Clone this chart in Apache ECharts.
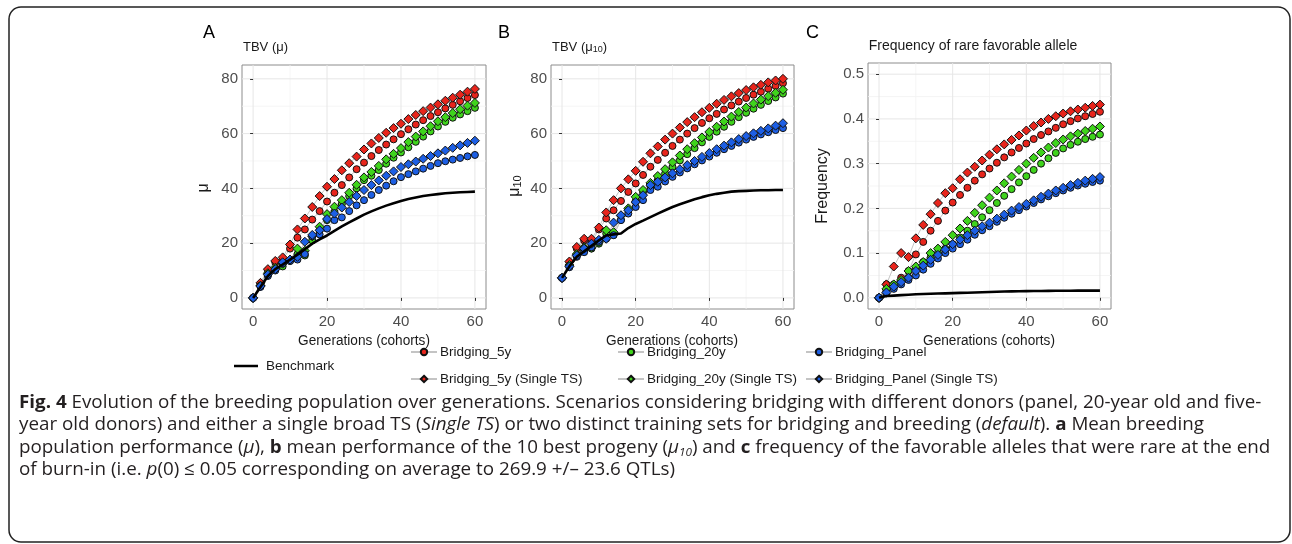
<!DOCTYPE html>
<html><head><meta charset="utf-8">
<script src="https://cdn.jsdelivr.net/npm/echarts@6/dist/echarts.min.js"></script>
<style>html,body{margin:0;padding:0;background:#fff}#c{width:1292px;height:544px}</style>
</head><body><div id="c"></div>
<script>
// ---------------- DATA ----------------
const generations = [0,2,4,6,8,10,12,14,16,18,20,22,24,26,28,30,32,34,36,38,40,42,44,46,48,50,52,54,56,58,60];
const xTicks = [0,20,40,60];
const xMinor = [10,30,50];
const yTicksAB = [0,20,40,60,80];
const yMinorAB = [10,30,50,70];
const yTicksC = [0,0.1,0.2,0.3,0.4,0.5];
const yMinorC = [0.05,0.15,0.25,0.35,0.45];

// Panel A: TBV (mu)
const A_bench    = [0,4,8,10.5,12.2,14,15.8,17.8,19.8,21.4,22.8,24.5,26.1,27.6,29,30.4,31.6,32.7,33.7,34.6,35.4,36.1,36.7,37.2,37.6,37.9,38.2,38.4,38.6,38.7,38.8];
const A_5y       = [0,5,10,13,14,18,22,25,28.6,31.7,35.2,38.4,41.2,44,47,49.4,51.8,54,56,57.9,59.8,61.6,63.3,64.9,66.4,67.8,69.2,70.5,71.8,73,74.1];
const A_5y_TS    = [0,5.5,10.5,13.5,14.8,19.5,25,29,33.2,37.2,40.6,43.4,46.6,49.2,51.6,54.2,56.4,58.4,60.3,62,63.6,65.3,66.8,68.2,69.5,70.7,72,73.1,74.2,75.3,76.3];
const A_20y      = [0,4.5,8.5,10.5,11.5,13.5,16,15.5,21,24.7,28.4,31.4,34.3,37.2,40,43,44.6,46.7,49,51.2,53.1,55,57,58.9,60.8,62.6,64.3,65.8,67,68.2,69.4];
const A_20y_TS   = [0,4.5,9,11,12.5,14,18,17.2,22.5,26,30.6,33.3,35.7,38.4,41.3,44,46,48.2,50.6,52.6,54.7,56.9,58.9,60.8,62.7,64.5,66,67.5,68.9,70.2,71.2];
const A_Panel    = [0,4,8,10,12.5,13.5,14,16,22.5,23.2,25.3,28.4,29.4,31.7,33.8,35.7,37.6,39.4,41,42.6,44.1,45.2,46.2,47.2,48.2,49.2,49.9,50.5,51.1,51.7,52.2];
const A_Panel_TS = [0,4.3,8.5,10.5,13,14,15,20.5,23,24.7,28.8,30.8,33,35,37.2,39.4,41.2,42.9,44.6,46.2,47.8,48.8,49.8,50.8,51.8,52.8,53.8,54.8,55.7,56.6,57.4];

// Panel B: TBV (mu10)
const B_bench    = [7.3,11.5,15,17,19,21,22.8,23.2,23.5,25.5,27,28.2,29.5,30.8,32,33.2,34.2,35.1,36,36.8,37.5,38,38.4,38.8,39,39.1,39.2,39.3,39.3,39.4,39.4];
const B_5y       = [7.3,13,18,21,20.4,25,29,32,35.4,38.7,41.8,44.9,47.9,50.4,53,55.5,57.8,60,62,63.9,65.6,67.2,68.8,70.3,71.7,73,74.2,75.3,76.4,77.4,78.4];
const B_5y_TS    = [7.3,13.3,18.6,21.6,21.6,25.7,31.2,35.7,40,43.3,46.4,49.7,52.8,55.3,57.8,60,62.2,64.2,66,67.8,69.4,70.9,72.3,73.6,74.8,75.9,76.9,77.8,78.7,79.4,80];
const B_20y      = [7.3,11.5,15.5,17.5,18,19.8,23.5,23,28.5,32,35.4,38.7,40.8,43,45.4,47.8,50.2,52.5,54.7,56.8,58.8,60.7,62.5,64.3,66,67.6,69.1,70.5,71.9,73.2,74.6];
const B_20y_TS   = [7.3,12,16,18.5,18.3,20.4,24.7,24,30,32.7,36.9,39.4,42,44.5,47,49.5,52,54.3,56.5,58.6,60.6,62.5,64.4,66.2,67.9,69.5,71,72.4,73.7,74.9,76];
const B_Panel    = [7.3,11.2,15,16.7,18.5,20.5,21.6,22.9,28.4,30.8,33.2,35.7,39.4,40.6,42.5,44.2,45.8,47.3,48.8,50.2,51.6,53,54.3,55.5,56.7,57.8,58.8,59.7,60.5,61.3,62];
const B_Panel_TS = [7.3,11.5,15.5,18,19.8,21.2,21.6,27.5,30.2,32,35,37.5,41.2,42.4,44,45.5,47,48.5,50,51.5,52.9,54.3,55.6,56.8,58,59.1,60.1,61,61.9,62.9,63.8];

// Panel C: frequency of rare favorable allele
const C_bench    = [0,0.004,0.005,0.006,0.007,0.008,0.0085,0.009,0.0095,0.01,0.0105,0.011,0.0115,0.012,0.0125,0.013,0.0135,0.014,0.0143,0.0146,0.015,0.0152,0.0154,0.0156,0.0157,0.0158,0.0159,0.016,0.016,0.016,0.016];
const C_5y       = [0,0.03,0.03,0.045,0.06,0.097,0.125,0.15,0.172,0.195,0.213,0.23,0.246,0.262,0.276,0.289,0.302,0.314,0.325,0.335,0.345,0.355,0.364,0.372,0.38,0.388,0.395,0.401,0.406,0.411,0.416];
const C_5y_TS    = [0,0.03,0.07,0.1,0.091,0.133,0.163,0.187,0.212,0.234,0.245,0.265,0.28,0.293,0.307,0.32,0.332,0.343,0.353,0.363,0.374,0.384,0.392,0.4,0.406,0.412,0.417,0.421,0.425,0.429,0.432];
const C_20y      = [0,0.015,0.025,0.035,0.045,0.065,0.08,0.09,0.1,0.11,0.12,0.135,0.15,0.165,0.18,0.196,0.212,0.228,0.243,0.258,0.272,0.286,0.3,0.312,0.324,0.334,0.342,0.349,0.355,0.36,0.365];
const C_20y_TS   = [0,0.02,0.03,0.04,0.06,0.07,0.08,0.1,0.11,0.125,0.14,0.155,0.172,0.19,0.207,0.224,0.24,0.256,0.271,0.286,0.3,0.313,0.325,0.336,0.346,0.354,0.361,0.367,0.373,0.378,0.383];
const C_Panel    = [0,0.01,0.02,0.03,0.04,0.05,0.063,0.076,0.088,0.1,0.11,0.12,0.13,0.141,0.151,0.16,0.17,0.179,0.188,0.196,0.204,0.212,0.22,0.227,0.234,0.24,0.246,0.251,0.255,0.259,0.262];
const C_Panel_TS = [0,0.012,0.025,0.035,0.045,0.06,0.072,0.085,0.096,0.108,0.12,0.13,0.14,0.15,0.16,0.168,0.177,0.186,0.195,0.203,0.21,0.218,0.226,0.233,0.24,0.246,0.252,0.257,0.262,0.266,0.27];

// ---------------- CHART ----------------
const FONT = "'Liberation Sans',Arial,sans-serif";
const CAPFONT = "'Open Sans','Noto Sans',sans-serif";
const RED = '#e8251c', GREEN = '#3fd41c', BLUE = '#1d5fe4';
const chart = echarts.init(document.getElementById('c'), null, {renderer:'canvas'});

function pairs(vals){ return generations.map((g,i)=>[g, vals[i]]); }

const grids = [
  {left:242, top:65, width:244, height:244},
  {left:551, top:65, width:243, height:244},
  {left:868, top:63, width:243, height:246}
];

function xAx(gi){
  return {type:'value', gridIndex:gi, min:-3, max:63,
    axisLine:{show:false},
    axisTick:{show:true, length:3, lineStyle:{color:'#333', width:1}, customValues:xTicks},
    axisLabel:{customValues:xTicks, color:'#4d4d4d', fontSize:15, margin:5, fontFamily:FONT},
    splitLine:{show:false}};
}
function yAx(gi, min, max, ticks, fmt){
  return {type:'value', gridIndex:gi, min, max,
    axisLine:{show:false},
    axisTick:{show:true, length:3, lineStyle:{color:'#333', width:1}, customValues:ticks},
    axisLabel:{customValues:ticks, color:'#4d4d4d', fontSize:15, margin:4, fontFamily:FONT, formatter:fmt},
    splitLine:{show:false}};
}

function gridLines(gi, xs, ys, color, width){
  const data = xs.map(v=>[v,0]).concat(ys.map(v=>[v,1]));
  return {type:'custom', xAxisIndex:gi, yAxisIndex:gi, silent:true, z:0, animation:false,
    data, encode:{x:-1, y:-1},
    renderItem(params, api){
      const cs = params.coordSys;
      const v = api.value(0), kind = api.value(1);
      if (kind === 0){
        const p = api.coord([v, gi===2?0.2:40]);
        return {type:'line', shape:{x1:p[0], y1:cs.y, x2:p[0], y2:cs.y+cs.height}, style:{stroke:color, lineWidth:width}};
      } else {
        const p = api.coord([30, v]);
        return {type:'line', shape:{x1:cs.x, y1:p[1], x2:cs.x+cs.width, y2:p[1]}, style:{stroke:color, lineWidth:width}};
      }
    }};
}

function ptSeries(name, vals, color, sym, gi){
  return {type:'line', name, xAxisIndex:gi, yAxisIndex:gi, data:pairs(vals),
    symbol:sym, symbolSize: sym==='diamond'?9:7, showSymbol:true,
    itemStyle:{color, borderColor:'#111', borderWidth:1},
    lineStyle:{color:'#c4c4c4', width:1}, z:3, animation:false, emphasis:{disabled:true}};
}
function benchSeries(vals, gi){
  return {type:'line', name:'Benchmark', xAxisIndex:gi, yAxisIndex:gi, data:pairs(vals),
    symbol:'none', lineStyle:{color:'#000', width:2.6}, itemStyle:{color:'#000'}, z:4, animation:false, emphasis:{disabled:true}};
}

const panels = [
  [A_bench, A_5y, A_5y_TS, A_20y, A_20y_TS, A_Panel, A_Panel_TS],
  [B_bench, B_5y, B_5y_TS, B_20y, B_20y_TS, B_Panel, B_Panel_TS],
  [C_bench, C_5y, C_5y_TS, C_20y, C_20y_TS, C_Panel, C_Panel_TS]
];

const series = [];
panels.forEach((p, gi)=>{
  const ym = gi===2 ? yMinorC : yMinorAB;
  const yM = gi===2 ? yTicksC : yTicksAB;
  series.push(gridLines(gi, xMinor, ym, '#f3f3f3', 0.8));
  series.push(gridLines(gi, xTicks, yM, '#e6e6e6', 1));
  series.push(benchSeries(p[0], gi));
  series.push(ptSeries('Bridging_5y', p[1], RED, 'circle', gi));
  series.push(ptSeries('Bridging_5y (Single TS)', p[2], RED, 'diamond', gi));
  series.push(ptSeries('Bridging_20y', p[3], GREEN, 'circle', gi));
  series.push(ptSeries('Bridging_20y (Single TS)', p[4], GREEN, 'diamond', gi));
  series.push(ptSeries('Bridging_Panel', p[5], BLUE, 'circle', gi));
  series.push(ptSeries('Bridging_Panel (Single TS)', p[6], BLUE, 'diamond', gi));
});

const legendBase = {orient:'vertical', itemWidth:26, itemHeight:8, itemGap:13, selectedMode:false,
  textStyle:{fontSize:13.5, color:'#1a1a1a', fontFamily:FONT, padding:[0,0,0,-2]}};

const CAPSIZE = 18.4;
const capRich = {
  b:{fontWeight:'bold', fontSize:CAPSIZE, fontFamily:CAPFONT, color:'#231f20'},
  i:{fontStyle:'italic', fontSize:CAPSIZE, fontFamily:CAPFONT, color:'#231f20'},
  s:{fontStyle:'italic', fontSize:11.5, fontFamily:CAPFONT, color:'#231f20', verticalAlign:'bottom', lineHeight:14}
};
function capLine(text, y){
  return {type:'text', x:19, y:y, scaleX:1.022, silent:true,
    style:{text, font:CAPSIZE+'px '+CAPFONT, fill:'#231f20', rich:capRich, lineHeight:22, verticalAlign:'middle'}};
}
const titleRich = {s:{fontSize:9, fontFamily:FONT, color:'#1a1a1a', verticalAlign:'bottom', lineHeight:12}};
function xName(cx){
  return {type:'text', x:cx, y:341, scaleX:0.88, silent:true,
    style:{text:'Generations (cohorts)', font:'15.5px '+FONT, fill:'#1a1a1a', align:'center', verticalAlign:'middle'}};
}

chart.setOption({
  backgroundColor:'#fff',
  animation:false,
  grid: grids.map(g=>Object.assign({show:true, borderColor:'#8c8c8c', borderWidth:1, backgroundColor:'transparent', containLabel:false}, g)),
  xAxis:[xAx(0), xAx(1), xAx(2)],
  yAxis:[
    yAx(0, -4.05, 85.05, yTicksAB),
    yAx(1, -4.05, 85.05, yTicksAB),
    yAx(2, -0.025, 0.525, yTicksC, v=>v.toFixed(1))
  ],
  legend:[
    Object.assign({}, legendBase, {data:[{name:'Benchmark', icon:'rect', itemStyle:{color:'#000'}}], left:229, top:354, itemWidth:24, itemHeight:2.5,
      textStyle:{fontSize:13.5, color:'#1a1a1a', fontFamily:FONT, padding:[0,0,0,3]}}),
    Object.assign({}, legendBase, {data:['Bridging_5y','Bridging_5y (Single TS)'], left:405, top:340}),
    Object.assign({}, legendBase, {data:['Bridging_20y','Bridging_20y (Single TS)'], left:612, top:340}),
    Object.assign({}, legendBase, {data:['Bridging_Panel','Bridging_Panel (Single TS)'], left:800, top:340})
  ],
  series,
  graphic:[
    {type:'rect', silent:true, shape:{x:9, y:7, width:1281, height:535, r:12}, style:{fill:'none', stroke:'#222', lineWidth:1.5}},
    {type:'text', left:203, top:24, style:{text:'A', font:'18px '+FONT, fill:'#000'}},
    {type:'text', left:498, top:24, style:{text:'B', font:'18px '+FONT, fill:'#000'}},
    {type:'text', left:806, top:24, style:{text:'C', font:'18px '+FONT, fill:'#000'}},
    {type:'text', left:243, top:41, style:{text:'TBV (\u03bc)', font:'13px '+FONT, fill:'#1a1a1a'}},
    {type:'text', left:552, top:41, style:{text:'TBV (\u03bc{s|10})', font:'13px '+FONT, fill:'#1a1a1a', rich:titleRich}},
    {type:'text', x:973, y:46, style:{text:'Frequency of rare favorable allele', font:'14px '+FONT, fill:'#1a1a1a', align:'center', verticalAlign:'middle'}},
    {type:'text', x:204, y:188, rotation:Math.PI/2, style:{text:'\u03bc', font:'16px '+FONT, fill:'#1a1a1a', align:'center', verticalAlign:'middle'}},
    {type:'text', x:515, y:186, rotation:Math.PI/2, style:{text:'\u03bc{s|10}', font:'16px '+FONT, fill:'#1a1a1a', align:'center', verticalAlign:'middle', rich:{s:{fontSize:11, fontFamily:FONT, verticalAlign:'bottom', lineHeight:14}}}},
    {type:'text', x:823, y:186, rotation:Math.PI/2, style:{text:'Frequency', font:'16px '+FONT, fill:'#1a1a1a', align:'center', verticalAlign:'middle'}},
    xName(364), xName(672), xName(989),
    capLine('{b|Fig. 4} Evolution of the breeding population over generations. Scenarios considering bridging with different donors (panel, 20-year old and five-', 402.5),
    capLine('year old donors) and either a single broad TS ({i|Single TS}) or two distinct training sets for bridging and breeding ({i|default}). {b|a} Mean breeding', 424.5),
    capLine('population performance ({i|\u03bc}), {b|b} mean performance of the 10 best progeny ({i|\u03bc}{s|10}) and {b|c} frequency of the favorable alleles that were rare at the end', 447.5),
    capLine('of burn-in (i.e. {i|p}(0) \u2264 0.05 corresponding on average to 269.9 +/\u2013 23.6 QTLs)', 469.5)
  ]
});
</script></body></html>
